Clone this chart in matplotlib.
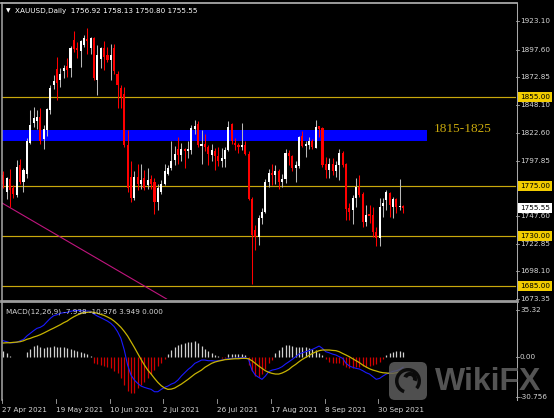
import matplotlib
matplotlib.use("Agg")
import matplotlib.pyplot as plt
from matplotlib.patches import Rectangle, FancyBboxPatch, Wedge

# ---- XAUUSD daily candles (27 Apr 2021 .. 11 Oct 2021) ----
opens = [1785, 1770, 1781, 1773, 1767, 1794, 1779, 1786, 1814, 1832,
         1833, 1837, 1817, 1825, 1843, 1866, 1880, 1870, 1878, 1883,
         1881, 1906, 1899, 1896, 1902, 1907, 1899, 1908, 1870, 1889,
         1899, 1893, 1888, 1899, 1876, 1863, 1858, 1812, 1783, 1764,
         1783, 1777, 1782, 1776, 1781, 1779, 1761, 1770, 1777, 1786,
         1791, 1798, 1808, 1803, 1808, 1806, 1807, 1826, 1831, 1811,
         1813, 1810, 1803, 1806, 1802, 1797, 1799, 1807, 1831, 1814,
         1812, 1810, 1812, 1804, 1763, 1735, 1729, 1746, 1752, 1779,
         1787, 1785, 1788, 1779, 1781, 1805, 1802, 1791, 1793, 1820,
         1811, 1812, 1815, 1809, 1829, 1827, 1795, 1789, 1795, 1788,
         1794, 1805, 1795, 1755, 1753, 1764, 1774, 1768, 1743, 1750,
         1749, 1734, 1728, 1757, 1762, 1769, 1756, 1763, 1756, 1756.92]
highs = [1788, 1783, 1790, 1776, 1798, 1799, 1791, 1818, 1843, 1846,
         1843, 1845, 1830, 1845, 1866, 1875, 1891, 1881, 1884, 1890,
         1901, 1914, 1904, 1906, 1911, 1917, 1909, 1909, 1902, 1900,
         1905, 1900, 1903, 1903, 1878, 1866, 1864, 1825, 1797, 1788,
         1795, 1795, 1789, 1791, 1785, 1782, 1777, 1780, 1795, 1794,
         1815, 1811, 1819, 1814, 1809, 1815, 1830, 1834, 1833, 1825,
         1822, 1812, 1813, 1809, 1810, 1809, 1810, 1833, 1832, 1818,
         1814, 1832, 1815, 1806, 1765, 1740, 1749, 1755, 1781, 1790,
         1795, 1794, 1790, 1786, 1808, 1807, 1803, 1797, 1820, 1824,
         1815, 1819, 1817, 1834, 1829, 1828, 1801, 1800, 1800, 1797,
         1808, 1806, 1796, 1760, 1767, 1782, 1785, 1770, 1758, 1758,
         1756, 1738, 1764, 1764, 1771, 1770, 1765, 1764, 1781, 1758.13]
lows = [1773, 1763, 1756, 1764, 1765, 1777, 1770, 1782, 1813, 1828,
        1826, 1813, 1808, 1820, 1840, 1862, 1852, 1864, 1872, 1873,
        1873, 1895, 1890, 1882, 1900, 1894, 1894, 1870, 1857, 1881,
        1879, 1886, 1870, 1876, 1845, 1845, 1810, 1770, 1761, 1762,
        1771, 1772, 1771, 1772, 1772, 1750, 1753, 1768, 1776, 1785,
        1789, 1794, 1795, 1797, 1791, 1800, 1804, 1822, 1810, 1795,
        1806, 1794, 1797, 1789, 1793, 1792, 1792, 1806, 1813, 1807,
        1805, 1807, 1803, 1762, 1687, 1717, 1722, 1741, 1751, 1774,
        1776, 1777, 1772, 1774, 1778, 1794, 1788, 1779, 1791, 1810,
        1801, 1808, 1808, 1809, 1819, 1792, 1782, 1782, 1785, 1783,
        1780, 1792, 1744, 1744, 1741, 1756, 1765, 1738, 1739, 1742,
        1729, 1721, 1721, 1747, 1753, 1747, 1746, 1751, 1753, 1750.80]
closes = [1777, 1782, 1771, 1768, 1792, 1779, 1789, 1815, 1830, 1836,
          1837, 1815, 1826, 1844, 1863, 1869, 1868, 1876, 1881, 1879,
          1899, 1898, 1897, 1905, 1908, 1905, 1908, 1872, 1893, 1899,
          1891, 1888, 1893, 1878, 1866, 1855, 1812, 1773, 1764, 1783,
          1777, 1780, 1773, 1780, 1777, 1761, 1773, 1777, 1788, 1791,
          1797, 1804, 1803, 1808, 1806, 1808, 1827, 1829, 1812, 1813,
          1810, 1804, 1807, 1802, 1797, 1800, 1807, 1828, 1815, 1812,
          1810, 1812, 1804, 1763, 1731, 1729, 1746, 1752, 1779, 1787,
          1785, 1788, 1779, 1781, 1805, 1802, 1791, 1794, 1819, 1811,
          1813, 1815, 1810, 1828, 1826, 1794, 1789, 1795, 1788, 1794,
          1805, 1794, 1754, 1752, 1764, 1774, 1767, 1743, 1749, 1748,
          1734, 1728, 1756, 1760, 1770, 1758, 1763, 1756, 1757, 1755.55]

# ---- MACD(12,26,9) panel ----
macd_main = [12.1, 11.4, 10.6, 10.6, 10.9, 12.1, 13.1, 15.7, 17.7, 19.7,
             21.5, 22.3, 23.8, 26.5, 29.1, 31.1, 31.8, 32.9, 33.4, 33.6,
             34.4, 34.9, 35.1, 34.9, 34.6, 34.6, 34.4, 32.3, 30.8, 29.6,
             28.3, 27.0, 25.3, 22.8, 19.0, 13.9, 5.1, -6.3, -13.9, -17.6,
             -20.2, -22.2, -23.2, -24.0, -24.7, -26.5, -26.5, -24.7, -23.2, -22.2,
             -20.7, -19.7, -17.6, -14.6, -12.1, -9.6, -7.6, -5.0, -3.8, -2.5,
             -2.5, -3.0, -3.0, -3.3, -3.0, -2.5, -2.0, -1.5, -1.2, -1.2,
             -1.0, -0.7, -0.5, -2.0, -10.1, -13.9, -15.6, -17.1, -14.6, -11.3,
             -10.1, -9.6, -8.8, -7.5, -5.5, -3.8, -2.0, 0.0, 2.0, 3.0,
             3.8, 4.6, 5.6, 6.8, 8.1, 6.3, 3.8, 3.0, 2.0, 1.3,
             0.0, -1.2, -5.0, -7.0, -8.0, -8.8, -9.3, -10.6, -12.1, -13.1,
             -15.1, -17.1, -16.4, -14.6, -13.1, -12.1, -11.1, -10.6, -9.6, -7.938]
macd_signal = [10.4, 10.6, 10.6, 10.9, 11.1, 11.4, 12.1, 13.2, 13.9, 14.9,
               15.7, 16.7, 17.9, 19.2, 20.5, 21.7, 23.0, 24.3, 25.8, 27.0,
               28.8, 30.3, 31.6, 32.6, 33.4, 33.6, 33.9, 33.6, 32.9, 32.1,
               31.3, 30.1, 28.8, 27.0, 24.8, 22.3, 19.2, 15.7, 11.4, 7.1,
               2.5, -2.0, -6.3, -10.1, -13.1, -16.4, -19.4, -21.9, -23.7, -24.7,
               -24.5, -23.7, -22.2, -20.7, -18.9, -17.1, -15.1, -13.1, -11.6, -10.1,
               -8.0, -6.5, -5.0, -4.0, -3.3, -2.8, -2.2, -2.0, -1.7, -1.5,
               -1.5, -1.2, -1.2, -1.5, -3.0, -5.0, -7.0, -8.8, -10.6, -11.8,
               -12.6, -13.1, -13.1, -12.3, -11.1, -9.6, -7.5, -5.8, -3.8, -2.0,
               -0.5, 1.0, 2.5, 3.6, 4.6, 5.1, 5.1, 5.1, 4.8, 4.6,
               3.8, 2.5, 1.3, 0.0, -1.5, -3.0, -4.5, -6.3, -7.8, -9.1,
               -10.1, -10.8, -11.6, -12.1, -12.3, -12.6, -12.6, -12.1, -11.6, -10.976]
macd_hist = [4.5, 2.5, 0.8, -0.5, -0.3, -0.5, -0.5, 3.8, 5.6, 8.1,
             8.8, 7.1, 6.3, 7.1, 7.6, 8.1, 7.6, 7.1, 7.1, 6.3,
             5.6, 5.1, 4.5, 3.8, 2.5, 1.8, 0.5, -5.1, -5.8, -6.3,
             -7.1, -7.6, -8.8, -10.6, -12.6, -16.4, -21.5, -25.8, -27.8, -27.3,
             -24.0, -21.5, -18.9, -16.4, -13.1, -10.1, -7.1, -4.5, -2.0, 2.0,
             5.1, 7.1, 8.8, 9.6, 10.6, 11.1, 11.4, 12.1, 10.6, 8.1,
             6.1, 4.5, 3.0, 1.5, 0.5, -1.0, -1.2, 1.8, 2.0, 2.0,
             2.0, 1.8, 1.3, -6.3, -10.6, -14.6, -15.1, -13.1, -9.6, -5.1,
             -2.5, 3.0, 5.1, 7.1, 8.6, 8.8, 8.1, 7.6, 7.6, 7.1,
             7.1, 6.3, 5.6, 5.1, 3.0, 1.0, -2.0, -3.8, -4.5, -4.5,
             -4.5, -6.3, -7.6, -8.8, -8.8, -8.1, -7.6, -7.1, -7.6, -7.1,
             -6.3, -5.6, -3.8, -1.5, 1.3, 2.5, 3.8, 4.3, 4.3, 3.949]

# ---- axis labels and chart objects ----
date_labels = ["27 Apr 2021", "19 May 2021", "10 Jun 2021", "2 Jul 2021",
               "26 Jul 2021", "17 Aug 2021", "8 Sep 2021", "30 Sep 2021"]
date_bars = [0, 16, 32, 48, 64, 80, 96, 112]
price_ticks = [1923.10, 1897.60, 1872.85, 1848.10, 1822.60, 1797.85,
               1747.60, 1722.85, 1698.10, 1673.35]
macd_ticks = [35.32, 0.00, -30.756]
macd_tick_text = ["35.32", "0.00", "-30.756"]
levels = [1855.00, 1775.00, 1730.00, 1685.00]
zone_low, zone_high = 1815, 1825
zone_bars = [-5, 126.2]
zone_label = "1815-1825"
trend_bars = [0, 42]
trend_prices = [1759.0, 1685.0]

GOLD_LINE = "#c9a80c"
GOLD_BOX = "#f2cc00"
LABEL = "#d6d6d6"
FRAME = "#a8a8a8"
FONT = "DejaVu Sans"
FS = 5.2

W, H = 554, 418
fig = plt.figure(figsize=(W / 100, H / 100), dpi=100)
fig.patch.set_facecolor("black")


def pix_axes(x0, y0, x1, y1, **kw):
    return fig.add_axes([x0 / W, 1 - y1 / H, (x1 - x0) / W, (y1 - y0) / H], **kw)


ax = pix_axes(2, 4, 516, 299)
axm = pix_axes(2, 303, 516, 399)
for a in (ax, axm):
    a.set_facecolor("black")
    a.set_xlim(-0.39, 152.6)
    for s in a.spines.values():
        s.set_visible(False)
    a.set_xticks([])
    a.set_yticks([])
ax.set_ylim(1673.35, 1938.6)
axm.set_ylim(-32.0, 40.7)

# support / resistance zone and lines
ax.add_patch(Rectangle((zone_bars[0], zone_low), zone_bars[1] - zone_bars[0],
                       zone_high - zone_low, facecolor="#0000ff", edgecolor="none", zorder=1))
ax.text(zone_bars[1] + 1.8, zone_high + 0.8, zone_label, color="#c9a80c",
        family="Liberation Serif", fontsize=9.6, va="center", ha="left", zorder=5)
for lv in levels:
    ax.axhline(lv, color=GOLD_LINE, lw=0.85, zorder=2)
ax.axline((trend_bars[0], trend_prices[0]), (trend_bars[1], trend_prices[1]),
          color="#c0157e", lw=0.8, zorder=2)

# candles
n = len(closes)
xs = list(range(n))
up = [c >= o for o, c in zip(opens, closes)]
wick_cols = ["#b8b8b8" if u else "#ff0000" for u in up]
body_cols = ["#ffffff" if u else "#ff0000" for u in up]
ax.vlines(xs, lows, highs, colors=wick_cols, lw=0.75, zorder=3)
bottoms = [min(o, c) for o, c in zip(opens, closes)]
heights = [max(abs(c - o), 0.8) for o, c in zip(opens, closes)]
ax.bar(xs, heights, bottom=bottoms, width=0.62, color=body_cols,
       edgecolor="none", linewidth=0, zorder=4)

# MACD histogram and lines
hist_cols = ["#d0d0d0" if h >= 0 else "#d00000" for h in macd_hist]
axm.vlines(xs, 0, macd_hist, colors=hist_cols, lw=0.9, zorder=2)
axm.plot(xs, macd_main, color="#1a1aff", lw=0.8, zorder=3)
axm.plot(xs, macd_signal, color="#c8b400", lw=0.9, zorder=4)

# right price scale
xa = (520 - 2) / 514
ytr = ax.get_yaxis_transform()
for p in price_ticks:
    ax.text(xa, p, f"{p:.2f}", transform=ytr, color=LABEL, family=FONT,
            fontsize=FS, va="center", ha="left", clip_on=False)
    ax.plot([1.0, 1.0055], [p, p], transform=ytr, color=FRAME, lw=0.6, clip_on=False)
for lv in levels:
    ax.text(xa, lv, f"{lv:.2f}", transform=ytr, color="black", family=FONT,
            fontsize=FS, va="center", ha="left", clip_on=False, zorder=6,
            bbox=dict(boxstyle="square,pad=0.28", fc=GOLD_BOX, ec="none"))
ax.text(xa, closes[-1], f"{closes[-1]:.2f}", transform=ytr, color="black",
        family=FONT, fontsize=FS, va="center", ha="left", clip_on=False, zorder=6,
        bbox=dict(boxstyle="square,pad=0.28", fc="white", ec="none"))

mtr = axm.get_yaxis_transform()
for v, t in zip(macd_ticks, macd_tick_text):
    axm.text(xa, v, t, transform=mtr, color=LABEL, family=FONT, fontsize=FS,
             va="center", ha="left", clip_on=False)
    axm.plot([1.0, 1.0055], [v, v], transform=mtr, color=FRAME, lw=0.6, clip_on=False)

# date scale
xtr = axm.get_xaxis_transform()
for b, lab in zip(date_bars, date_labels):
    axm.text(b - 0.35, -0.115, lab, transform=xtr, color=LABEL, family=FONT,
             fontsize=FS, va="center", ha="left", clip_on=False)
    axm.plot([b - 0.35, b - 0.35], [0, -0.04], transform=xtr, color=FRAME,
             lw=0.6, clip_on=False)

# frame, headers and watermark in pixel space
ov = fig.add_axes([0, 0, 1, 1], zorder=10)
ov.set_xlim(0, W)
ov.set_ylim(H, 0)
ov.axis("off")
ov.patch.set_alpha(0)
ov.plot([1.5, 1.5], [3, 400], color=FRAME, lw=1.1)
ov.plot([1, 516.5], [3, 3], color=FRAME, lw=1.3)
ov.plot([516.5, 516.5], [3, 400], color=FRAME, lw=0.75)
ov.plot([1, 516.5], [301, 301], color="#9c9c9c", lw=2.0)

ov.text(6, 10.5, "\u25bc", color="white", family=FONT, fontsize=4.2, va="center", ha="left")
ov.text(15, 10.5, f"XAUUSD,Daily  {opens[-1]:.2f} {highs[-1]:.2f} {lows[-1]:.2f} {closes[-1]:.2f}",
        color="white", family=FONT, fontsize=FS, va="center", ha="left")
ov.text(6.5, 311.5, f"MACD(12,26,9) {macd_main[-1]:.3f} {macd_signal[-1]:.3f} {macd_hist[-1]:.3f} 0.000",
        color=LABEL, family=FONT, fontsize=FS, va="center", ha="left")

ov.add_patch(FancyBboxPatch((389, 362), 38, 38, boxstyle="round,pad=0,rounding_size=6",
                            fc="#5e5e5e", ec="none", alpha=0.85))
ov.add_patch(Wedge((408, 381), 13, 110, 400, width=3.5, fc="black", ec="none", alpha=0.85))
ov.add_patch(Wedge((410, 379), 7, 200, 20, width=4, fc="black", ec="none", alpha=0.85))
ov.text(435, 382.5, "WikiFX", color="#5e5e5e", family="Liberation Sans",
        fontweight="bold", fontsize=23, va="center", ha="left", alpha=0.9)

fig.savefig("out.png", dpi=100, facecolor="black")
